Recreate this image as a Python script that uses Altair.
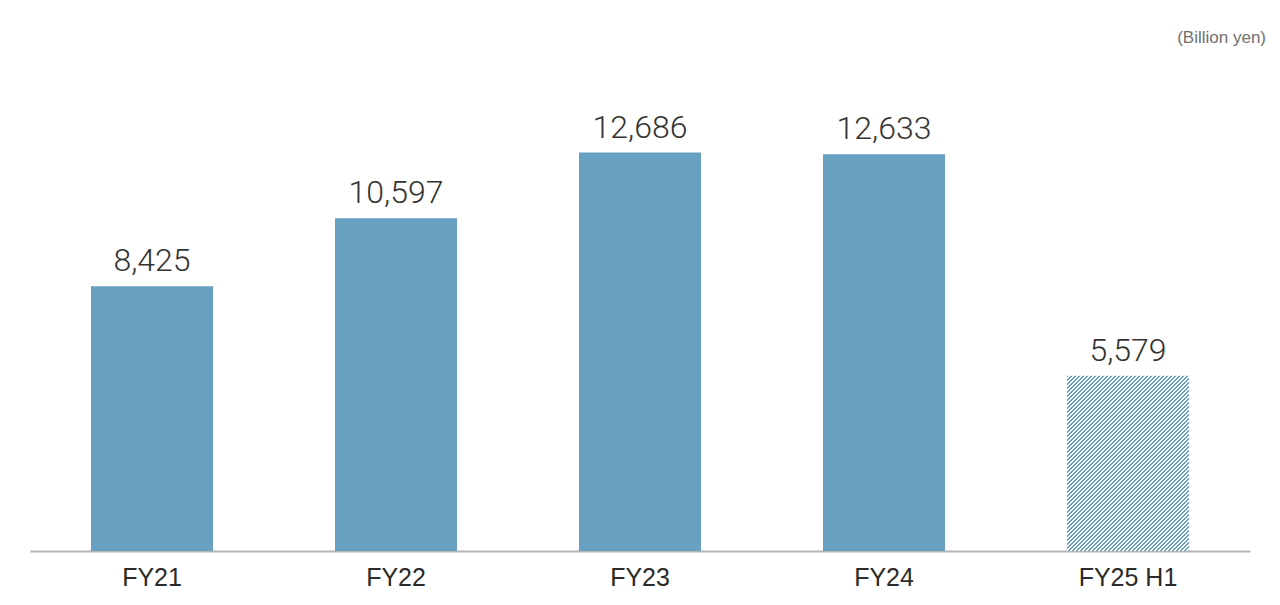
import altair as alt
import pandas as pd

categories = ["FY21", "FY22", "FY23", "FY24", "FY25 H1"]
values = [8425, 10597, 12686, 12633, 5579]
kinds = ["full", "full", "full", "full", "half"]

df = pd.DataFrame({"cat": categories, "value": values, "kind": kinds})

BLUE = "#68a0c2"

# hatch gradient stops (diagonal stripes)
period = 1 / 74.25
stops = []
a = 0.0
while a < 1:
    b = min(a + period * 0.5, 1.0)
    c = min(a + period, 1.0)
    stops += [
        alt.GradientStop(offset=round(a, 5), color=BLUE),
        alt.GradientStop(offset=round(b, 5), color=BLUE),
        alt.GradientStop(offset=round(b, 5), color="#ffffff"),
        alt.GradientStop(offset=round(c, 5), color="#ffffff"),
    ]
    a += period
hatch = alt.Gradient(gradient="linear", x1=0, y1=0, x2=0.796, y2=1.142, stops=stops)

x = alt.X(
    "cat:N",
    sort=categories,
    scale=alt.Scale(paddingInner=0.5, paddingOuter=0.25),
    axis=alt.Axis(
        title=None,
        labelAngle=0,
        ticks=False,
        domainColor="#b5b5b5",
        domainWidth=2,
        labelFont="Liberation Sans",
        labelFontWeight="normal",
        labelFontSize=25,
        labelColor="#2b2b2b",
        labelPadding=14,
    ),
)
y = alt.Y("value:Q", scale=alt.Scale(domain=[0, 15600], nice=False), axis=None)

base = alt.Chart(df)

solid = base.transform_filter(alt.datum.kind == "full").mark_bar(color=BLUE).encode(x=x, y=y)
hatched = base.transform_filter(alt.datum.kind == "half").mark_bar(fill=hatch).encode(x=x, y=y)
labels = base.mark_text(
    baseline="alphabetic",
    dy=-15,
    font="Roboto",
    fontWeight=300,
    fontSize=32,
    color="#333333",
).encode(x=x, y=y, text=alt.Text("value:Q", format=","))

chart = (
    alt.layer(solid, hatched, labels)
    .properties(
        width=1220,
        height=490,
        autosize=alt.AutoSizeParams(type="none"),
        padding={"left": 22, "top": 53, "right": 20, "bottom": 40},
        title=alt.TitleParams(
            "(Billion yen)",
            anchor="end",
            fontSize=17,
            fontWeight="normal",
            font="Liberation Sans",
            color="#707070",
            dx=16,
            offset=14,
        ),
    )
    .configure_view(stroke=None)
)

chart.save("out.html", embed_options={"renderer": "svg", "actions": False})
